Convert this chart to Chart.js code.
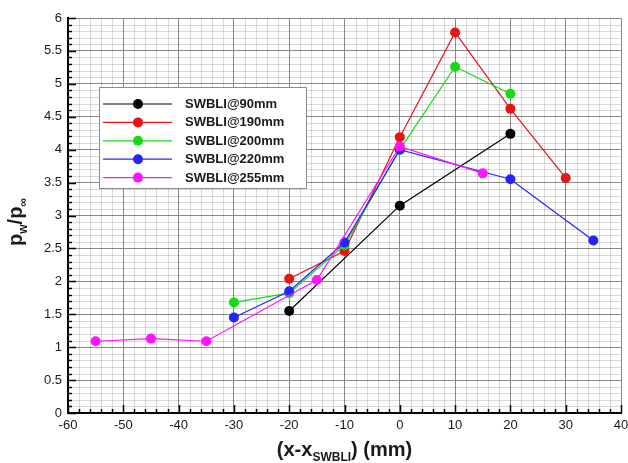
<!DOCTYPE html>
<html>
<head>
<meta charset="utf-8">
<script src="https://cdn.jsdelivr.net/npm/chart.js@4.4.0/dist/chart.umd.min.js"></script>
<style>
  html, body { margin: 0; padding: 0; background: #fff; }
</style>
</head>
<body>
<canvas id="myChart" width="628" height="463"></canvas>
<script>
// series names and colours
const seriesNames = ['SWBLI@90mm', 'SWBLI@190mm', 'SWBLI@200mm', 'SWBLI@220mm', 'SWBLI@255mm'];
const seriesColors = ['#000000', '#e81414', '#14dc14', '#2424ff', '#ff14ff'];

// values (x in mm, y = pw/pinf)
const x90 = [-20, 0, 20];
const y90 = [1.55, 3.15, 4.24];
const x190 = [-20, -10, 0, 10, 20, 30];
const y190 = [2.04, 2.46, 4.19, 5.78, 4.62, 3.57];
const x200 = [-30, -20, -10, 0, 10, 20];
const y200 = [1.68, 1.82, 2.55, 4.0, 5.26, 4.85];
const x220 = [-30, -20, -10, 0, 20, 35];
const y220 = [1.45, 1.85, 2.59, 4.0, 3.55, 2.62];
const x255 = [-55, -45, -35, -15, 0, 15];
const y255 = [1.09, 1.13, 1.09, 2.02, 4.05, 3.64];

// tick labels
const xTicks = [-60, -50, -40, -30, -20, -10, 0, 10, 20, 30, 40];
const yTicks = [0, 0.5, 1, 1.5, 2, 2.5, 3, 3.5, 4, 4.5, 5, 5.5, 6];

const FONT = "'Liberation Sans', Arial, Helvetica, sans-serif";

function pairs(xs, ys) {
    return xs.map((v, i) => ({ x: v, y: ys[i] }));
}

// minor grid, inner tick marks, axis titles and the boxed legend
const decorPlugin = {
    id: 'decor',
    beforeDatasetsDraw(chart) {
        const { ctx, chartArea: a, scales: { x, y } } = chart;
        ctx.save();
        // minor grid
        ctx.strokeStyle = 'rgba(0,0,0,0.15)';
        ctx.lineWidth = 1;
        ctx.beginPath();
        for (let v = -58; v < 40; v += 2) {
            if (v % 10 === 0) continue;
            const px = Math.round(x.getPixelForValue(v)) + 0.5;
            ctx.moveTo(px, a.top); ctx.lineTo(px, a.bottom);
        }
        for (let k = 1; k < 60; k++) {
            if (k % 5 === 0) continue;
            const py = Math.round(y.getPixelForValue(k / 10)) + 0.5;
            ctx.moveTo(a.left, py); ctx.lineTo(a.right, py);
        }
        ctx.stroke();
        // tick marks inside the left and bottom axes
        ctx.strokeStyle = '#000';
        ctx.lineWidth = 1.5;
        ctx.beginPath();
        for (let v = -60; v <= 40; v += 2) {
            const px = Math.round(x.getPixelForValue(v)) + 0.5;
            const len = v % 10 === 0 ? 8 : 4;
            ctx.moveTo(px, a.bottom); ctx.lineTo(px, a.bottom - len);
        }
        for (let k = 0; k <= 60; k++) {
            const py = Math.round(y.getPixelForValue(k / 10)) + 0.5;
            const len = k % 5 === 0 ? 8 : 4;
            ctx.moveTo(a.left, py); ctx.lineTo(a.left + len, py);
        }
        ctx.stroke();
        ctx.restore();
    },
    afterDraw(chart) {
        const { ctx, chartArea: a } = chart;
        ctx.save();
        ctx.fillStyle = '#1a1a1a';
        ctx.textBaseline = 'alphabetic';

        // x axis title: (x-x_SWBLI) (mm)
        const big = 'bold 20px ' + FONT, small = 'bold 12px ' + FONT;
        ctx.font = big;
        const w1 = ctx.measureText('(x-x').width;
        const w3 = ctx.measureText(') (mm)').width;
        ctx.font = small;
        const w2 = ctx.measureText('SWBLI').width;
        let tx = (a.left + a.right) / 2 - (w1 + w2 + w3) / 2;
        ctx.textAlign = 'left';
        ctx.font = big; ctx.fillText('(x-x', tx, 456); tx += w1;
        ctx.font = small; ctx.fillText('SWBLI', tx, 461); tx += w2;
        ctx.font = big; ctx.fillText(') (mm)', tx, 456);

        // y axis title: p_w/p_inf
        ctx.save();
        ctx.translate(22, 222);
        ctx.rotate(-Math.PI / 2);
        const parts = [['p', big, 0], ['w', small, 5], ['/p', big, 0], ['\u221e', small, 5]];
        let tot = 0;
        parts.forEach(p => { ctx.font = p[1]; tot += ctx.measureText(p[0]).width; });
        let px = -tot / 2;
        parts.forEach(p => { ctx.font = p[1]; ctx.fillText(p[0], px, p[2]); px += ctx.measureText(p[0]).width; });
        ctx.restore();

        // legend box
        const lx = 99.5, ly = 87.5, lw = 207, lh = 101;
        ctx.fillStyle = '#fff';
        ctx.fillRect(lx, ly, lw, lh);
        ctx.strokeStyle = '#8c8c8c';
        ctx.lineWidth = 1;
        ctx.strokeRect(lx, ly, lw, lh);
        ctx.font = 'bold 13px ' + FONT;
        ctx.textBaseline = 'middle';
        chart.data.datasets.forEach((ds, i) => {
            const ry = 104 + i * 18.4;
            ctx.strokeStyle = ds.borderColor;
            ctx.lineWidth = 1.2;
            ctx.beginPath(); ctx.moveTo(103, ry); ctx.lineTo(172, ry); ctx.stroke();
            ctx.fillStyle = ds.backgroundColor;
            ctx.beginPath(); ctx.arc(138, ry, 5, 0, Math.PI * 2); ctx.fill();
            ctx.fillStyle = '#1a1a1a';
            ctx.fillText(ds.label, 185, ry + 0.5);
        });
        ctx.restore();
    }
};

const xs = [x90, x190, x200, x220, x255];
const ys = [y90, y190, y200, y220, y255];

const datasets = seriesNames.map((name, i) => ({
    label: name,
    data: pairs(xs[i], ys[i]),
    borderColor: seriesColors[i],
    backgroundColor: seriesColors[i],
    borderWidth: 1.2,
    pointRadius: 5,
    pointBorderWidth: 0,
    pointHoverRadius: 5,
    tension: 0,
    fill: false,
    order: 5 - i
}));

const ctx = document.getElementById('myChart').getContext('2d');
new Chart(ctx, {
    type: 'line',
    data: { datasets: datasets },
    options: {
        responsive: false,
        animation: false,
        devicePixelRatio: 1,
        layout: { padding: { left: 0, right: 7, top: 18, bottom: 0 } },
        plugins: {
            legend: { display: false },
            tooltip: { enabled: false }
        },
        scales: {
            x: {
                type: 'linear',
                min: -60,
                max: 40,
                afterFit: s => { s.height = 50; s.paddingLeft = 0; s.paddingRight = 0; },
                afterBuildTicks: s => { s.ticks = xTicks.map(v => ({ value: v })); },
                ticks: { padding: 5, color: '#1a1a1a', font: { family: FONT, size: 13 }, maxRotation: 0, autoSkip: false,
                         callback: v => String(v) },
                grid: { color: '#8a8a8a', lineWidth: 1, drawTicks: false },
                border: { color: '#000', width: 2 }
            },
            y: {
                type: 'linear',
                min: 0,
                max: 6,
                afterFit: s => { s.width = 68; s.paddingTop = 0; s.paddingBottom = 0; },
                afterBuildTicks: s => { s.ticks = yTicks.map(v => ({ value: v })); },
                ticks: { padding: 6, color: '#1a1a1a', font: { family: FONT, size: 13 }, autoSkip: false,
                         callback: v => String(v) },
                grid: { color: '#8a8a8a', lineWidth: 1, drawTicks: false },
                border: { color: '#000', width: 2 }
            }
        }
    },
    plugins: [decorPlugin]
});
</script>
</body>
</html>
